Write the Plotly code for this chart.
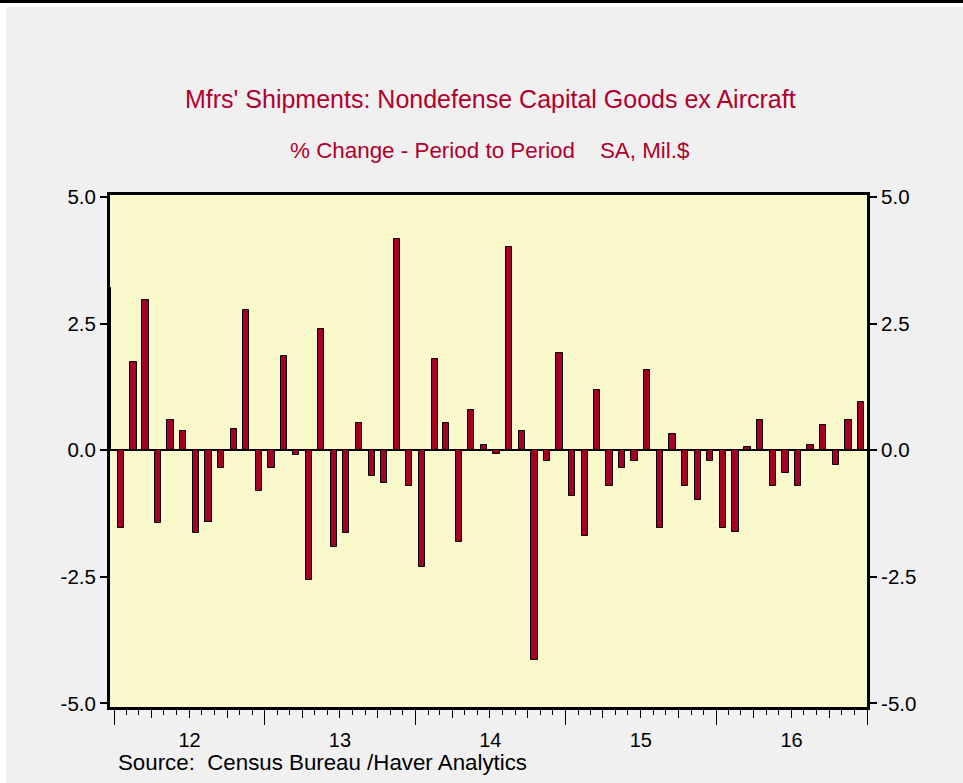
import plotly.graph_objects as go
import pandas as pd

# ---- data (monthly % change, Dec-2011 .. Dec-2016) ----
first_month = "2011-12-01"
values = [
    3.20,
    -1.53, 1.74, 2.97, -1.43, 0.59, 0.38, -1.63, -1.41, -0.35, 0.41, 2.76, -0.80,
    -0.35, 1.87, -0.10, -2.57, 2.40, -1.91, -1.63, 0.54, -0.50, -0.64, 4.17, -0.71,
    -2.30, 1.80, 0.54, -1.81, 0.80, 0.11, -0.08, 4.02, 0.38, -4.14, -0.22, 1.92,
    -0.91, -1.69, 1.18, -0.71, -0.35, -0.22, 1.59, -1.53, 0.33, -0.71, -0.99, -0.22,
    -1.53, -1.61, 0.06, 0.59, -0.71, -0.44, -0.71, 0.10, 0.49, -0.30, 0.59, 0.95,
]
year_labels = ["12", "13", "14", "15", "16"]
year_numbers = [2012, 2013, 2014, 2015, 2016]
ytick_vals = [5.0, 2.5, 0.0, -2.5, -5.0]
ytick_text = ["5.0", "2.5", "0.0", "-2.5", "-5.0"]

title = "Mfrs' Shipments: Nondefense Capital Goods ex Aircraft"
subtitle = "% Change - Period to Period\u00a0\u00a0\u00a0\u00a0SA, Mil.$"
source = "Source:\u00a0\u00a0Census Bureau /Haver Analytics"

# ---- derived ----
months = pd.date_range(first_month, periods=len(values), freq="MS")
x_mid = months + pd.Timedelta(days=16)
month_ticks = pd.date_range("2012-01-01", "2017-01-01", freq="MS")
quarter_ticks = pd.date_range("2012-01-01", "2017-01-01", freq="QS")
year_ticks = pd.date_range("2012-01-01", "2017-01-01", freq="YS")
label_pos = [pd.Timestamp(f"{y}-07-02") for y in year_numbers]

W, H = 963, 783
L, R, T, B = 110, 96, 195, 76
PW, PH = W - L - R, H - T - B

def px(xp):
    return (xp - L) / PW

def py(yp):
    return (H - B - yp) / PH

FONT = "Arial, 'Liberation Sans', sans-serif"
RED = "#B0002E"

fig = go.Figure()
fig.add_trace(go.Bar(
    x=x_mid, y=values,
    width=15 * 86400000,
    marker=dict(color="#A30024", line=dict(color="black", width=1)),
    showlegend=False, hoverinfo="x+y",
))
# empty helper traces so overlay axes are drawn
fig.add_trace(go.Scatter(x=[], y=[], xaxis="x2", yaxis="y", showlegend=False))
fig.add_trace(go.Scatter(x=[], y=[], xaxis="x", yaxis="y2", showlegend=False))

fig.update_layout(
    width=W, height=H,
    margin=dict(l=L, r=R, t=T, b=B, pad=0),
    paper_bgcolor="#F0F0F0",
    plot_bgcolor="#FAF9CC",
    font=dict(family=FONT, color="black"),
    bargap=0,
    xaxis=dict(
        type="date", range=["2011-12-22", "2017-01-01"],
        showline=True, linewidth=3, linecolor="black", mirror=True,
        showgrid=False, zeroline=False,
        tickmode="array", tickvals=label_pos, ticktext=year_labels,
        ticks="", tickfont=dict(size=20, family=FONT), ticklabelstandoff=13,
        minor=dict(tickmode="array", tickvals=month_ticks, ticks="outside",
                   ticklen=5, tickwidth=1, tickcolor="black", showgrid=False),
    ),
    xaxis2=dict(
        type="date", overlaying="x", matches="x", anchor="y", side="bottom",
        showline=False, showgrid=False, zeroline=False,
        tickmode="array", tickvals=year_ticks, ticks="outside",
        ticklen=17, tickwidth=1, tickcolor="black", showticklabels=False,
        minor=dict(tickmode="array", tickvals=quarter_ticks, ticks="outside",
                   ticklen=10, tickwidth=1, tickcolor="black", showgrid=False),
    ),
    yaxis=dict(
        range=[-5.07, 5.04],
        showline=True, linewidth=3, linecolor="black", mirror=True,
        showgrid=False, zeroline=True, zerolinecolor="black", zerolinewidth=1.5,
        tickmode="array", tickvals=ytick_vals, ticktext=ytick_text,
        ticks="outside", ticklen=7, tickwidth=2, tickcolor="black",
        tickfont=dict(size=20.5, family=FONT),
    ),
    yaxis2=dict(
        overlaying="y", matches="y", side="right", anchor="x",
        showline=False, showgrid=False, zeroline=False,
        tickmode="array", tickvals=ytick_vals, ticktext=ytick_text,
        ticks="outside", ticklen=9, tickwidth=2, tickcolor="black",
        tickfont=dict(size=20.5, family=FONT),
    ),
    shapes=[
        dict(type="rect", xref="paper", yref="paper", x0=px(0), x1=px(W),
             y0=py(0), y1=py(3), fillcolor="black", line=dict(width=0)),
        dict(type="rect", xref="paper", yref="paper", x0=px(0), x1=px(W),
             y0=py(3), y1=py(7), fillcolor="white", line=dict(width=0)),
        dict(type="rect", xref="paper", yref="paper", x0=px(0), x1=px(6),
             y0=py(3), y1=py(H), fillcolor="white", line=dict(width=0)),
    ],
    annotations=[
        dict(text=title, xref="paper", yref="paper", x=px(490), y=py(99),
             xanchor="center", yanchor="middle", showarrow=False,
             font=dict(size=25, color=RED, family=FONT)),
        dict(text=subtitle, xref="paper", yref="paper", x=px(490), y=py(150),
             xanchor="center", yanchor="middle", showarrow=False,
             font=dict(size=22.4, color=RED, family=FONT)),
        dict(text=source, xref="paper", yref="paper", x=px(116), y=py(762),
             xanchor="left", yanchor="middle", showarrow=False,
             font=dict(size=22.3, color="black", family=FONT)),
    ],
)

fig.write_html(
    "out.html",
    config={"displayModeBar": False},
    post_script="document.body.style.margin='0';document.body.style.overflow='hidden';",
)
